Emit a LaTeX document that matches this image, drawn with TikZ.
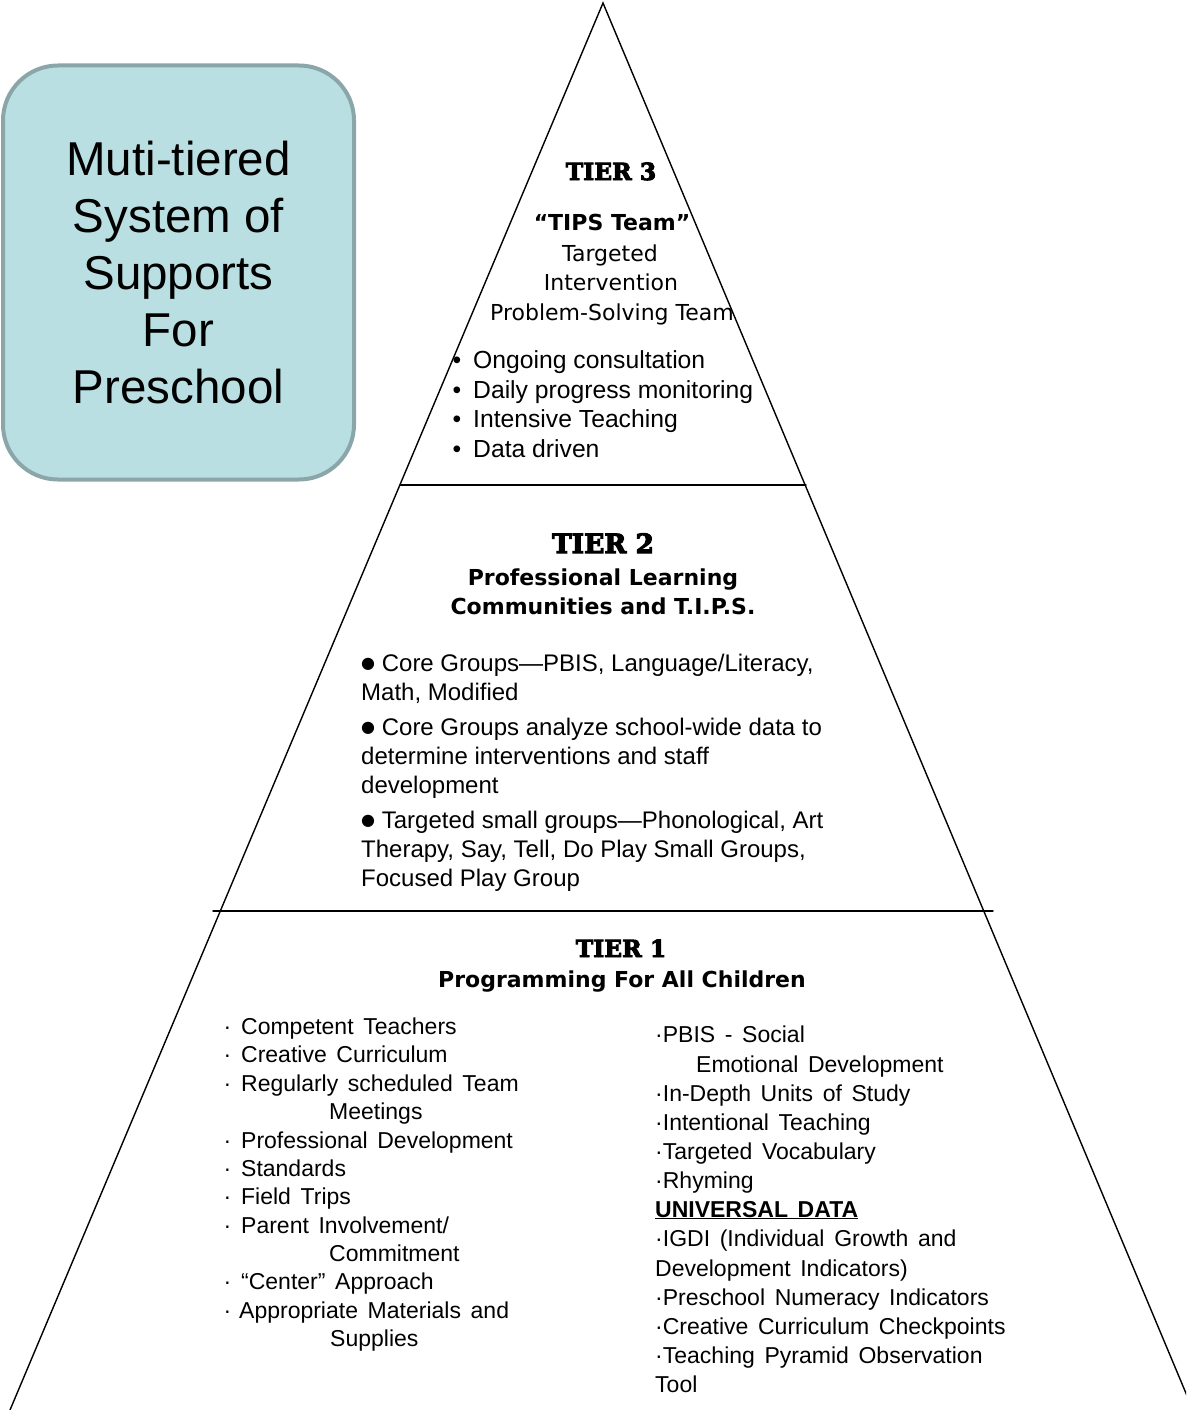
\documentclass[tikz,border=0pt]{standalone}
\usepackage{fontspec}
\setmainfont{Liberation Sans}
\newfontfamily\verd{DejaVu Sans}
\newfontfamily\slab{DejaVu Serif}[BoldFeatures={FakeBold=4}]
\definecolor{boxfill}{HTML}{B9DFE2}
\definecolor{boxline}{HTML}{8AA6A9}
\newcommand{\widespace}{\spaceskip=0.42em\relax}
\newcommand{\bigdot}{\raisebox{3pt}{\verd\fontsize{16}{16}\selectfont ●}}
\tikzset{
  pyr/.style={line width=1.4pt, line cap=round},
  titlebox/.style={draw=boxline, fill=boxfill, line width=4pt, rounded corners=55pt,
    minimum width=351pt, minimum height=414pt, inner sep=0pt, align=center,
    font=\fontsize{47.5}{57}\selectfont},
  tiertitle/.style={font=\slab\bfseries\fontsize{23.5}{27}\selectfont, inner sep=0pt, anchor=base},
  tierhead/.style={font=\verd\bfseries\fontsize{22}{27}\selectfont, inner sep=0pt, anchor=base},
  tipsline/.style={font=\verd\fontsize{22}{27}\selectfont, inner sep=0pt, anchor=base},
  itemthree/.style={font=\fontsize{24.7}{29}\selectfont, inner sep=0pt, anchor=base west},
  itemtwo/.style={font=\fontsize{24}{29}\selectfont, inner sep=0pt, anchor=base west},
  itemone/.style={font=\fontsize{23}{28}\selectfont, inner sep=0pt, anchor=base west},
}
\begin{document}
\begin{tikzpicture}[x=1pt,y=-1pt]
\path[use as bounding box] (0,0) rectangle (1186,1410);
\clip (0,0) rectangle (1186,1410);

% pyramid outline and tier borders
\coordinate (apex) at (603,3);
\coordinate (bl) at (10,1410);
\coordinate (br) at (1193,1410);
\coordinate (t32l) at (400,485);
\coordinate (t32r) at (806,485);
\coordinate (t21l) at (213,911);
\coordinate (t21r) at (993,911);
\draw[pyr] (bl) -- (apex) -- (br);
\draw[pyr] (t32l) -- (t32r);
\draw[pyr] (t21l) -- (t21r);

% title box
\node[titlebox] (title) at (178.5,272.5) {Muti-tiered\\System of\\Supports\\For\\Preschool};

% tier 3
\node[tiertitle] (tier3) at (611,180) {TIER 3};
\node[tierhead] (tips) at (612,230) {“TIPS Team”};
\node[tipsline] (tips-a) at (610,261) {Targeted};
\node[tipsline] (tips-b) at (611,290) {Intervention};
\node[tipsline] (tips-c) at (612,320) {Problem-Solving Team};
\foreach \y/\txt [count=\i] in {368/Ongoing consultation, 398/Daily progress monitoring,
    427/Intensive Teaching, 457/Data driven}
  \node[itemthree] (t3-\i) at (473,\y) {\llap{•\hspace{12pt}}\txt};

% tier 2
\node[tiertitle, font=\slab\bfseries\fontsize{26.5}{30}\selectfont] (tier2) at (603,553) {TIER 2};
\node[tierhead] (plc-a) at (603,585) {Professional Learning};
\node[tierhead] (plc-b) at (603,614) {Communities and T.I.P.S.};
\foreach \y/\txt [count=\i] in {
    671/{\bigdot\ Core Groups—PBIS, Language/Literacy,},
    700/{Math, Modified},
    735/{\bigdot\ Core Groups analyze school-wide data to},
    764/{determine interventions and staff},
    793/{development},
    828/{\bigdot\ Targeted small groups—Phonological, Art},
    857/{Therapy, Say, Tell, Do Play Small Groups,},
    886/{Focused Play Group}}
  \node[itemtwo] (t2-\i) at (361,\y) {\txt};

% tier 1, left column
\node[tiertitle] (tier1) at (621,957) {TIER 1};
\node[tierhead] (prog) at (622,987) {Programming For All Children};
\foreach \px/\py/\txt [count=\i] in {
    241/1034/{\llap{·\hspace{10pt}}Competent Teachers},
    241/1062/{\llap{·\hspace{10pt}}Creative Curriculum},
    241/1091/{\llap{·\hspace{10pt}}Regularly scheduled Team},
    329/1119/{Meetings},
    241/1148/{\llap{·\hspace{10pt}}Professional Development},
    241/1176/{\llap{·\hspace{10pt}}Standards},
    241/1204/{\llap{·\hspace{10pt}}Field Trips},
    241/1233/{\llap{·\hspace{10pt}}Parent Involvement/},
    329/1261/{Commitment},
    241/1289/{\llap{·\hspace{10pt}}“Center” Approach},
    239/1318/{\llap{·\hspace{8pt}}Appropriate Materials and},
    330/1346/{Supplies}}
  \node[itemone] (t1l-\i) at (\px,\py) {\widespace\txt};

% tier 1, right column
\foreach \px/\py/\txt [count=\i] in {
    655/1042/{·PBIS - Social},
    696/1072/{Emotional Development},
    655/1101/{·In-Depth Units of Study},
    655/1130/{·Intentional Teaching},
    655/1159/{·Targeted Vocabulary},
    655/1188/{·Rhyming},
    655/1217/{\textbf{\underline{UNIVERSAL DATA}}},
    655/1246/{·IGDI (Individual Growth and},
    655/1276/{Development Indicators)},
    655/1305/{·Preschool Numeracy Indicators},
    655/1334/{·Creative Curriculum Checkpoints},
    655/1363/{·Teaching Pyramid Observation},
    655/1392/{Tool}}
  \node[itemone] (t1r-\i) at (\px,\py) {\widespace\txt};
\end{tikzpicture}
\end{document}
